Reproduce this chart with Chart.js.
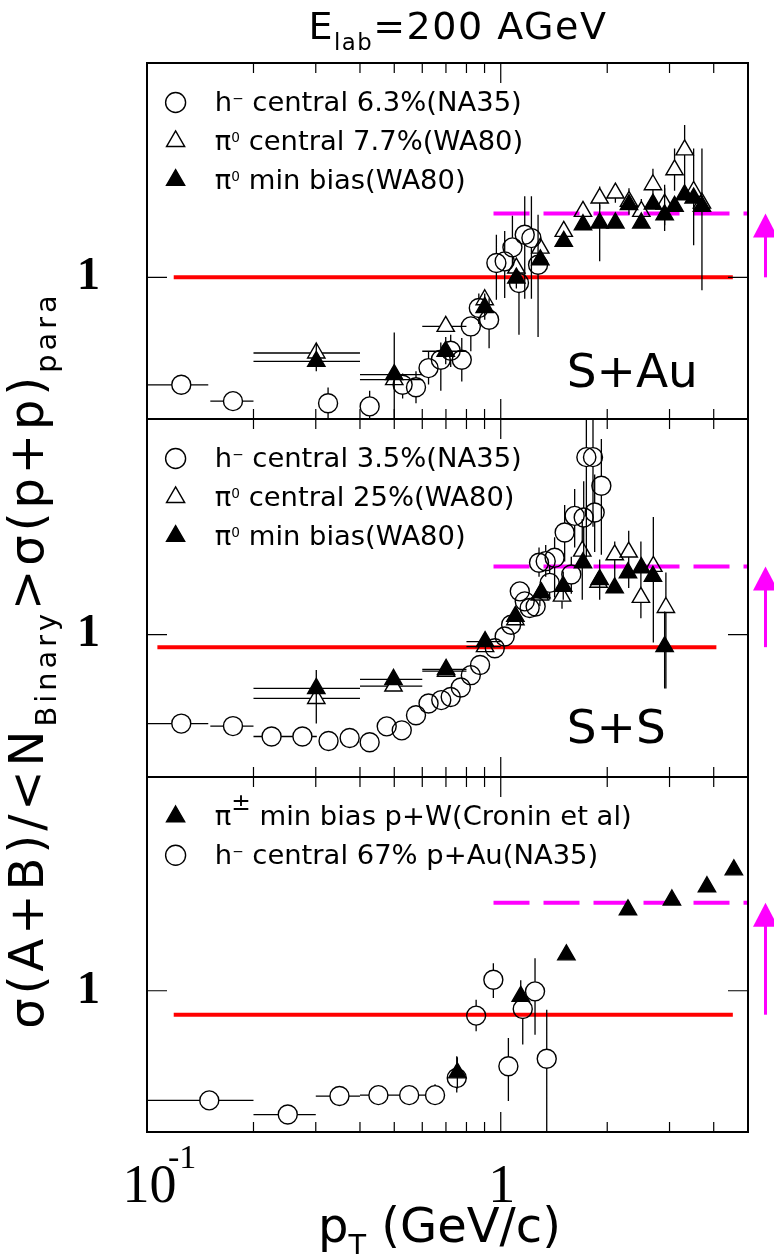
<!DOCTYPE html>
<html>
<head>
<meta charset="utf-8">
<title>Nuclear modification, E_lab = 200 AGeV</title>
<script src="https://cdn.jsdelivr.net/npm/chart.js@4.4.1/dist/chart.umd.min.js"></script>
<style>
  body { margin: 0; background: #fff; }
  #wrap { position: relative; width: 774px; height: 1254px; overflow: hidden; background: #fff; }
  #wrap canvas { position: absolute; left: 0; top: 0; }
</style>
</head>
<body>
<div id="wrap">
  <canvas id="sau" width="774" height="1254"></canvas>
  <canvas id="ss" width="774" height="1254"></canvas>
  <canvas id="pa" width="774" height="1254"></canvas>
</div>
<script>
const N = null;

// axes
const xRange = [0.1, 5];
const yRange = [0.4, 4];
const xTickVals = [0.2, 0.3, 0.4, 0.5, 0.6, 0.7, 0.8, 0.9, 1, 2, 3, 4];
const yTickVals = [0.5, 0.6, 0.7, 0.8, 0.9, 1, 2, 3];

// ---- S+Au ----
// h- central 6.3% (NA35)
const sauH_x   = [0.125, 0.175, 0.325, 0.426, 0.528, 0.576, 0.625, 0.677, 0.722, 0.776, 0.823, 0.867, 0.927, 0.972, 1.026, 1.079, 1.126, 1.169, 1.221, 1.275];
const sauH_y   = [0.499, 0.449, 0.443, 0.434, 0.499, 0.491, 0.556, 0.587, 0.622, 0.587, 0.728, 0.820, 0.760, 1.097, 1.109, 1.214, 0.964, 1.317, 1.289, 1.085];
const sauH_ylo = [N, N, 0.40, 0.40, 0.457, 0.443, 0.50, 0.48, 0.56, 0.51, 0.62, 0.74, 0.632, 0.865, 0.875, 1.08, 0.69, 0.87, 0.87, 0.68];
const sauH_yhi = [N, N, 0.49, 0.48, 0.537, 0.545, 0.62, 0.656, 0.69, 0.675, 0.77, 0.90, 0.874, 1.317, 1.35, 1.49, 1.04, 1.69, 1.69, 1.50];
const sauH_xlo = [0.1, 0.151];
const sauH_xhi = [0.149, 0.2];
// pi0 central 7.7% (WA80)
const sauPc_x   = [0.301, 0.500, 0.699, 0.901, 1.107, 1.294, 1.507, 1.708, 1.904, 2.109, 2.304, 2.497, 2.693, 2.906, 3.100, 3.310, 3.510, 3.705];
const sauPc_y   = [0.613, 0.516, 0.728, 0.865, 1.062, 1.208, 1.346, 1.532, 1.670, 1.725, 1.635, 1.532, 1.820, 1.606, 2.005, 2.280, 1.743, 1.616];
const sauPc_ylo = [N, N, N, N, N, N, N, 1.45, 1.55, 1.62, 1.50, 1.40, 1.62, 1.40, 1.75, 1.82, 1.23, 0.92];
const sauPc_yhi = [N, N, N, N, N, N, N, 1.62, 1.80, 1.83, 1.78, 1.66, 2.02, 1.82, 2.30, 2.68, 2.30, 2.30];
const sauPc_xlo = [0.2, 0.4, 0.6];
const sauPc_xhi = [0.4, 0.6, 0.8];
// pi0 min bias (WA80)
const sauPm_x   = sauPc_x;
const sauPm_y   = [0.581, 0.533, 0.620, 0.823, 0.995, 1.120, 1.262, 1.405, 1.421, 1.421, 1.600, 1.421, 1.606, 1.499, 1.583, 1.706, 1.670, 1.583];
const sauPm_ylo = [0.545, 0.40, 0.57, 0.76, 0.93, N, N, N, 1.11, N, N, N, N, 1.35, N, N, N, N];
const sauPm_yhi = [0.65, 0.70, 0.68, 0.90, 1.06, N, N, N, 1.60, N, N, N, N, 1.78, N, N, N, N];
const sauPm_xlo = [0.2, 0.4, 0.6];
const sauPm_xhi = [0.4, 0.6, 0.8];

// ---- S+S ----
// h- central 3.5% (NA35)
const ssH_x   = [0.125, 0.175, 0.225, 0.275, 0.326, 0.374, 0.426, 0.476, 0.525, 0.576, 0.625, 0.679, 0.722, 0.771, 0.823, 0.874, 0.962, 1.026, 1.070, 1.132, 1.169, 1.207, 1.255, 1.283, 1.340, 1.375, 1.420, 1.516, 1.583, 1.618, 1.716, 1.746, 1.823, 1.843, 1.925];
const ssH_y   = [0.564, 0.555, 0.519, 0.519, 0.504, 0.514, 0.500, 0.554, 0.540, 0.595, 0.642, 0.656, 0.669, 0.711, 0.770, 0.822, 0.916, 0.987, 1.065, 1.320, 1.238, 1.186, 1.198, 1.587, 1.603, 1.394, 1.639, 1.927, 1.472, 2.145, 2.123, 3.130, 3.130, 2.193, 2.604];
const ssH_ylo = [N, N, N, N, N, N, N, N, N, N, N, N, N, N, N, N, N, N, N, N, N, N, N, 1.45, 1.45, 1.25, 1.27, 1.60, 1.30, 1.75, 1.60, 1.64, 2.00, 1.70, 1.67];
const ssH_yhi = [N, N, N, N, N, N, N, N, N, N, N, N, N, N, N, N, N, N, N, N, N, N, N, 1.75, 1.78, 1.56, 1.87, 2.30, 1.65, 2.55, 2.68, 4.50, 4.50, 2.80, 3.52];
const ssH_xlo = [0.1, 0.151, 0.2, 0.254];
const ssH_xhi = [0.149, 0.2, 0.254, 0.302];
// pi0 central 25% (WA80)
const ssPc_x   = [0.301, 0.4975, 0.7006, 0.903, 1.100, 1.290, 1.490, 1.700, 1.890, 2.100, 2.300, 2.490, 2.700, 2.930];
const ssPc_y   = [0.663, 0.718, 0.790, 0.925, 1.100, 1.290, 1.280, 1.710, 1.400, 1.670, 1.700, 1.270, 1.550, 1.190];
const ssPc_ylo = [N, N, N, N, N, 1.20, 1.18, 1.25, N, 1.32, 1.35, 1.11, 0.95, 0.707];
const ssPc_yhi = [N, N, N, N, N, 1.38, 1.40, 2.10, N, 1.82, 1.95, 1.82, 2.13, 1.49];
const ssPc_xlo = [0.2, 0.4, 0.6, 0.8];
const ssPc_xhi = [0.4, 0.6, 0.8, 1.0];
// pi0 min bias (WA80)
const ssPm_x   = [0.301, 0.4975, 0.7006, 0.903, 1.100, 1.303, 1.502, 1.708, 1.904, 2.099, 2.289, 2.497, 2.693, 2.906];
const ssPm_y   = [0.707, 0.749, 0.799, 0.956, 1.124, 1.307, 1.364, 1.587, 1.424, 1.350, 1.488, 1.537, 1.455, 0.925];
const ssPm_ylo = [0.564, N, N, N, N, N, 1.25, N, 1.25, N, N, N, N, 0.707];
const ssPm_yhi = [0.796, N, N, N, N, N, 1.50, N, 1.62, N, N, N, N, 1.16];
const ssPm_xlo = [0.2, 0.4, 0.6, 0.8];
const ssPm_xhi = [0.4, 0.6, 0.8, 1.0];

// ---- p+A ----
// h- central 67% p+Au (NA35)
const paH_x   = [0.150, 0.250, 0.350, 0.451, 0.551, 0.652, 0.751, 0.852, 0.953, 1.051, 1.154, 1.250, 1.349];
const paH_y   = [0.491, 0.448, 0.505, 0.508, 0.508, 0.508, 0.568, 0.851, 1.074, 0.613, 0.888, 0.996, 0.643];
const paH_ylo = [N, N, N, N, 0.48, 0.48, 0.517, 0.769, 0.954, 0.489, 0.705, 0.752, 0.30];
const paH_yhi = [N, N, N, N, 0.54, 0.545, 0.654, 0.943, 1.196, 0.736, 0.924, 1.235, 0.884];
const paH_xlo = [0.1, 0.2, 0.3, 0.4, 0.5, 0.6];
const paH_xhi = [0.2, 0.3, 0.4, 0.5, 0.6, 0.69];
// pi+- min bias p+W (Cronin et al)
const paCr_x   = [0.754, 1.139, 1.533, 2.289, 3.047, 3.828, 4.560];
const paCr_y   = [0.587, 0.964, 1.262, 1.689, 1.801, 1.963, 2.190];
const paCr_ylo = [0.53, 0.93];
const paCr_yhi = [0.65, 1.07];

// reference lines (red = binary scaling, magenta = saturation) per panel
const refY = [1.0, 0.922, 0.856];
const refX = [[0.119, 4.53], [0.107, 4.07], [0.119, 4.53]];
const satY = [1.51, 1.55, 1.77];
const satX = [0.954, 5];

const sauLeg = ['h^{−} central 6.3%(NA35)', 'π^{0} central 7.7%(WA80)', 'π^{0} min bias(WA80)'];
const ssLeg  = ['h^{−} central 3.5%(NA35)', 'π^{0} central 25%(WA80)', 'π^{0} min bias(WA80)'];
const paLeg  = ['π^^{±} min bias p+W(Cronin et al)', 'h^{−} central 67% p+Au(NA35)'];

const SANS = '"DejaVu Sans", sans-serif';
const SERIF = '"Liberation Serif", serif';

// draws text with ^{sup} ^^{big sup} _{sub}; returns width
function rich(ctx, str, x, y, size, fam, measureOnly) {
  const re = /(\^\^|\^|_)\{([^}]*)\}/g;
  const parts = [];
  let last = 0, m;
  while ((m = re.exec(str))) {
    if (m.index > last) parts.push([str.slice(last, m.index), '']);
    parts.push([m[2], m[1]]);
    last = re.lastIndex;
  }
  if (last < str.length) parts.push([str.slice(last), '']);
  let cx = x;
  for (const [t, k] of parts) {
    let s = size, dy = 0;
    if (k === '^') { s = size * 0.5; dy = -size * 0.3; }
    else if (k === '^^') { s = size * 0.85; dy = -size * 0.55; }
    else if (k === '_') { s = size * 0.6; dy = size * 0.28; }
    ctx.font = s + 'px ' + fam;
    if (!measureOnly) ctx.fillText(t, cx, y + dy);
    cx += ctx.measureText(t).width;
  }
  return cx - x;
}

function marker(ctx, style, r, x, y) {
  if (Chart.helpers && Chart.helpers.drawPoint) {
    Chart.helpers.drawPoint(ctx, {pointStyle: style, radius: r, borderWidth: ctx.lineWidth, rotation: 0}, x, y);
    return;
  }
  ctx.beginPath();
  if (style === 'circle') ctx.arc(x, y, r, 0, Math.PI * 2);
  else { ctx.moveTo(x, y - r); ctx.lineTo(x - r * 0.866, y + r / 2); ctx.lineTo(x + r * 0.866, y + r / 2); ctx.closePath(); }
  ctx.fill(); ctx.stroke();
}

const DECO = {};

const panelDeco = {
  id: 'panelDeco',
  beforeDatasetDraw(chart, args) {
    const ds = chart.data.datasets[args.index];
    if (!ds.err) return;
    const ctx = chart.ctx, a = chart.chartArea, sx = chart.scales.x, sy = chart.scales.y;
    const e = ds.err, r = ds.pointRadius, tri = ds.pointStyle === 'triangle';
    const hollow = ds.pointBackgroundColor !== '#000';
    const up = hollow ? r : 0, dn = hollow ? (tri ? r / 2 : r) : 0, side = hollow ? (tri ? r * 0.58 : r) : 0;
    ctx.save();
    ctx.beginPath();
    ctx.rect(a.left, a.top, a.right - a.left, a.bottom - a.top);
    ctx.clip();
    ctx.strokeStyle = '#000';
    ctx.lineWidth = 1.3;
    ctx.beginPath();
    ds.data.forEach((p, i) => {
      const px = sx.getPixelForValue(p.x), py = sy.getPixelForValue(p.y);
      if (e.ylo && e.ylo[i] != null) {
        const q = sy.getPixelForValue(e.ylo[i]);
        if (q > py + dn) { ctx.moveTo(px, py + dn); ctx.lineTo(px, q); }
      }
      if (e.yhi && e.yhi[i] != null) {
        const q = sy.getPixelForValue(e.yhi[i]);
        if (q < py - up) { ctx.moveTo(px, py - up); ctx.lineTo(px, q); }
      }
      if (e.xlo && e.xlo[i] != null) {
        const q = sx.getPixelForValue(e.xlo[i]);
        if (q < px - side) { ctx.moveTo(px - side, py); ctx.lineTo(q, py); }
      }
      if (e.xhi && e.xhi[i] != null) {
        const q = sx.getPixelForValue(e.xhi[i]);
        if (q > px + side) { ctx.moveTo(px + side, py); ctx.lineTo(q, py); }
      }
    });
    ctx.stroke();
    ctx.restore();
  },
  afterDraw(chart) {
    const d = DECO[chart.canvas.id];
    if (!d) return;
    const ctx = chart.ctx, a = chart.chartArea, sx = chart.scales.x, sy = chart.scales.y;
    ctx.save();
    // inward ticks on all four sides
    ctx.strokeStyle = '#000';
    ctx.lineWidth = 1.2;
    ctx.beginPath();
    sx.ticks.forEach(t => {
      const p = sx.getPixelForValue(t.value), L = t.value === 1 ? 20 : 10;
      ctx.moveTo(p, a.bottom); ctx.lineTo(p, a.bottom - L);
      ctx.moveTo(p, a.top); ctx.lineTo(p, a.top + L);
    });
    sy.ticks.forEach(t => {
      const p = sy.getPixelForValue(t.value), L = t.value === 1 ? 20 : 10;
      ctx.moveTo(a.left, p); ctx.lineTo(a.left + L, p);
      ctx.moveTo(a.right, p); ctx.lineTo(a.right - L, p);
    });
    ctx.stroke();
    ctx.lineWidth = 2;
    ctx.strokeRect(a.left, a.top, a.right - a.left, a.bottom - a.top);

    // arrow from binary-scaling line up to the dashed line
    const ax = a.right + 17.5;
    const y0 = sy.getPixelForValue(d.arrow[0]), y1 = sy.getPixelForValue(d.arrow[1]);
    ctx.strokeStyle = ctx.fillStyle = '#ff00ff';
    ctx.lineWidth = 3;
    ctx.beginPath(); ctx.moveTo(ax, y0); ctx.lineTo(ax, y1 + 20); ctx.stroke();
    ctx.beginPath(); ctx.moveTo(ax, y1); ctx.lineTo(ax - 12.5, y1 + 24); ctx.lineTo(ax + 12.5, y1 + 24); ctx.closePath(); ctx.fill();

    // legend
    ctx.textAlign = 'left';
    ctx.textBaseline = 'alphabetic';
    d.legend.forEach((txt, i) => {
      const ds = chart.data.datasets[d.legendSets[i]];
      const my = a.top + 39.5 + i * 38.8;
      ctx.strokeStyle = '#000';
      ctx.fillStyle = ds.pointBackgroundColor;
      ctx.lineWidth = 1.4;
      marker(ctx, ds.pointStyle, ds.pointRadius + 0.5, a.left + 28.6, my);
      ctx.fillStyle = '#000';
      rich(ctx, txt, a.left + 67.8, my + 8.7, 27.4, SANS);
    });

    // system label
    ctx.fillStyle = '#000';
    ctx.font = '47px ' + SANS;
    ctx.fillText(d.label, a.left + 419.7, a.top + 323.7);

    if (d.title) {
      ctx.letterSpacing = '1.5px';
      rich(ctx, 'E_{lab}=200 AGeV', 308.5, 39.3, 38, SANS);
      ctx.letterSpacing = '0px';
    }
    if (d.yTitle) {
      ctx.save();
      ctx.translate(43, 660);
      ctx.rotate(-Math.PI / 2);
      ctx.letterSpacing = '4px';
      const s = 'σ(A+B)/<N_{Binary}>σ(p+p)_{para}';
      const w = rich(ctx, s, 0, 0, 48, SANS, true);
      rich(ctx, s, -w / 2, 0, 48, SANS);
      ctx.restore();
    }
    if (d.xTitle) {
      const p01 = sx.getPixelForValue(0.1), p1 = sx.getPixelForValue(1);
      ctx.textAlign = 'center';
      ctx.font = '54px ' + SERIF;
      ctx.fillText('10', p01 + 2.5, a.bottom + 70);
      ctx.fillText('1', p1 + 1, a.bottom + 70);
      ctx.textAlign = 'left';
      ctx.font = '34px ' + SERIF;
      ctx.fillText('-1', p01 + 21, a.bottom + 36);
      rich(ctx, 'p_{T} (GeV/c)', 318, a.bottom + 110, 48, SANS);
    }
    ctx.restore();
  }
};

function marks(xs, ys, err, style, filled) {
  return {
    data: xs.map((x, i) => ({x: x, y: ys[i]})),
    err: err,
    pointStyle: style,
    pointRadius: style === 'circle' ? 9.5 : 10,
    pointBorderWidth: 1.4,
    pointBorderColor: '#000',
    pointBackgroundColor: filled ? '#000' : 'rgba(0,0,0,0)',
    showLine: false,
    order: 1
  };
}

function hline(xs, y, color, dash) {
  return {
    data: [{x: xs[0], y: y}, {x: xs[1], y: y}],
    showLine: true,
    borderColor: color,
    borderWidth: 4,
    borderDash: dash,
    borderCapStyle: 'butt',
    pointRadius: 0,
    order: 5
  };
}

function panel(id, datasets, top, bottom) {
  return new Chart(document.getElementById(id), {
    type: 'scatter',
    data: { datasets: datasets },
    options: {
      responsive: false,
      animation: false,
      events: [],
      layout: { autoPadding: false, padding: { left: 0, right: 26, top: top, bottom: 1254 - bottom } },
      plugins: { legend: { display: false }, tooltip: { enabled: false } },
      scales: {
        x: {
          type: 'logarithmic', min: xRange[0], max: xRange[1], display: false,
          afterBuildTicks: s => { s.ticks = xTickVals.map(v => ({value: v})); }
        },
        y: {
          type: 'logarithmic', min: yRange[0], max: yRange[1],
          // fixed axis width, and no extra label padding pushed into the layout
          afterFit: s => { s.width = 147; s.paddingTop = 0; s.paddingBottom = 0; },
          afterBuildTicks: s => { s.ticks = yTickVals.map(v => ({value: v})); },
          grid: { display: false, drawTicks: false },
          border: { display: false },
          ticks: {
            autoSkip: false, padding: 47, color: '#000',
            font: { family: SERIF, size: 46, weight: 'bold' },
            callback: v => (v === 1 ? '1' : null)
          }
        }
      }
    },
    plugins: [panelDeco]
  });
}

DECO.sau = { legend: sauLeg, legendSets: [2, 1, 0], label: 'S+Au', arrow: [refY[0], satY[0]], title: true };
DECO.ss  = { legend: ssLeg,  legendSets: [2, 1, 0], label: 'S+S',  arrow: [refY[1], satY[1]], yTitle: true };
DECO.pa  = { legend: paLeg,  legendSets: [0, 1],    label: '',     arrow: [refY[2], satY[2]], xTitle: true };

panel('sau', [
  marks(sauPm_x, sauPm_y, {ylo: sauPm_ylo, yhi: sauPm_yhi, xlo: sauPm_xlo, xhi: sauPm_xhi}, 'triangle', true),
  marks(sauPc_x, sauPc_y, {ylo: sauPc_ylo, yhi: sauPc_yhi, xlo: sauPc_xlo, xhi: sauPc_xhi}, 'triangle', false),
  marks(sauH_x, sauH_y, {ylo: sauH_ylo, yhi: sauH_yhi, xlo: sauH_xlo, xhi: sauH_xhi}, 'circle', false),
  hline(refX[0], refY[0], '#ff0000', []),
  hline(satX, satY[0], '#ff00ff', [36, 14])
], 63, 419);

panel('ss', [
  marks(ssPm_x, ssPm_y, {ylo: ssPm_ylo, yhi: ssPm_yhi, xlo: ssPm_xlo, xhi: ssPm_xhi}, 'triangle', true),
  marks(ssPc_x, ssPc_y, {ylo: ssPc_ylo, yhi: ssPc_yhi, xlo: ssPc_xlo, xhi: ssPc_xhi}, 'triangle', false),
  marks(ssH_x, ssH_y, {ylo: ssH_ylo, yhi: ssH_yhi, xlo: ssH_xlo, xhi: ssH_xhi}, 'circle', false),
  hline(refX[1], refY[1], '#ff0000', []),
  hline(satX, satY[1], '#ff00ff', [36, 14])
], 419, 777);

panel('pa', [
  marks(paCr_x, paCr_y, {ylo: paCr_ylo, yhi: paCr_yhi}, 'triangle', true),
  marks(paH_x, paH_y, {ylo: paH_ylo, yhi: paH_yhi, xlo: paH_xlo, xhi: paH_xhi}, 'circle', false),
  hline(refX[2], refY[2], '#ff0000', []),
  hline(satX, satY[2], '#ff00ff', [36, 14])
], 777, 1132);
</script>
</body>
</html>
